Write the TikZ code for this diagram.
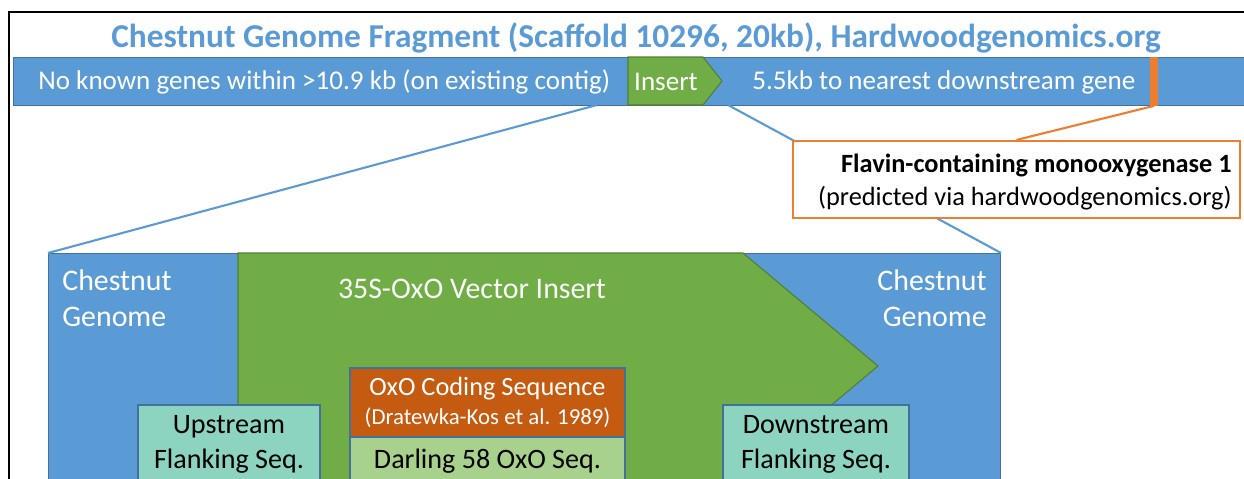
\documentclass[tikz,border=0pt]{standalone}
\usepackage{fontspec}
\setmainfont{Carlito}
\usetikzlibrary{positioning}
\definecolor{gBlue}{RGB}{91,155,213}
\definecolor{gBlueDk}{RGB}{65,113,156}
\definecolor{gGreen}{RGB}{112,173,71}
\definecolor{gGreenDk}{RGB}{80,126,50}
\definecolor{gOrange}{RGB}{237,125,49}
\definecolor{gRust}{RGB}{197,90,17}
\definecolor{gLeaf}{RGB}{169,209,142}
\definecolor{gTeal}{RGB}{140,211,192}

\begin{document}
\begin{tikzpicture}[x=0.02cm, y=-0.02cm,
            seg/.style={fill=gBlue, draw=gBlueDk, line width=0.6pt, inner sep=0pt},
            ins/.style={fill=gGreen, draw=gGreenDk, line width=0.6pt},
            lbl/.style={text=white, inner sep=0pt, font=\fontsize{15.4}{18}\selectfont},
            big/.style={text=white, inner sep=0pt, font=\fontsize{17}{20.5}\selectfont},
            seqbox/.style={draw=gBlueDk, line width=0.6pt, inner sep=0pt, align=center, font=\fontsize{16}{19.8}\selectfont},
            link/.style={draw=gBlue, line width=1.2pt}]
            \useasboundingbox (0,0) rectangle (1244,478);
            \clip (0,0) rectangle (1244,478);
            % scaffold bar
            \node[text=gBlue, inner sep=0pt, font=\fontsize{19}{22}\selectfont\bfseries] (title) at (636,38)
                {Chestnut Genome Fragment (Scaffold 10296, 20kb), Hardwoodgenomics.org};
            \node[seg, anchor=north west, minimum width=1250*0.02cm, minimum height=48*0.02cm] (scaffold) at (13,57) {};
            \draw[ins] (628,57) -- (703,57) -- (722,81) -- (703,105) -- (628,105) -- cycle;
            \node[lbl, anchor=west] (nogenes) at (38,82) {No known genes within >10.9 kb (on existing contig)};
            \node[lbl] (insert) at (666,82) {Insert};
            \node[lbl, anchor=west] (downgene) at (752,82) {5.5kb to nearest downstream gene};
            \node[fill=gOrange, inner sep=0pt, minimum width=8*0.02cm, minimum height=49*0.02cm] (fmo) at (1154,81) {};
            \coordinate (cutL) at (597,105);
            \coordinate (cutR) at (728,105);
            % zoomed insertion site
            \node[seg, anchor=north west, minimum width=952*0.02cm, minimum height=260*0.02cm] (genome) at (48,253) {};
            \draw[ins] (238,253) -- (743,253) -- (878,366) -- (743,479) -- (743,500) -- (238,500) -- cycle;
            \draw[link] (cutL) -- (genome.north west);
            \draw[link] (cutR) -- (genome.north east);
            \node[draw=gOrange, fill=white, line width=1.2pt, minimum width=447*0.02cm, minimum height=77*0.02cm] (flavin) at (1016.5,179.5) {};
            \node[anchor=east, align=right, inner sep=0pt, font=\fontsize{15}{18.7}\selectfont] (flavintxt) at (1232,182)
                {\textbf{Flavin-containing monooxygenase 1}\\(predicted via hardwoodgenomics.org)};
            \draw[draw=gOrange, line width=1.2pt] (fmo.south) -- (flavin.north);
            \node[big, anchor=north west, align=left] (chestL) at (62,269) {Chestnut\\Genome};
            \node[big, anchor=north east, align=right] (chestR) at (987,269) {Chestnut\\Genome};
            \node[big, text=white!95!gray] (vector) at (472,289) {35S-OxO Vector Insert};
            % sequence blocks
            \node[seqbox, fill=gTeal, minimum width=182*0.02cm, minimum height=78*0.02cm] (upflank) at (229,444) {Upstream\\Flanking Seq.};
            \node[seqbox, fill=gTeal, minimum width=186*0.02cm, minimum height=78*0.02cm] (downflank) at (816,444) {Downstream\\Flanking Seq.};
            \node[seqbox, fill=gRust, text=white, minimum width=275*0.02cm, minimum height=69*0.02cm, font=\fontsize{15}{16.4}\selectfont] (coding) at (487.5,402.5)
                {OxO Coding Sequence\\{\fontsize{13}{16.4}\selectfont(Dratewka-Kos et al. 1989)}};
            \node[seqbox, fill=gLeaf, minimum width=275*0.02cm, minimum height=48*0.02cm] (darling) at (487.5,461) {Darling 58 OxO Seq.};
            % frame
            \draw[line width=1.6pt] (9,490) -- (9,12) -- (1250,12);
\end{tikzpicture}
\end{document}
